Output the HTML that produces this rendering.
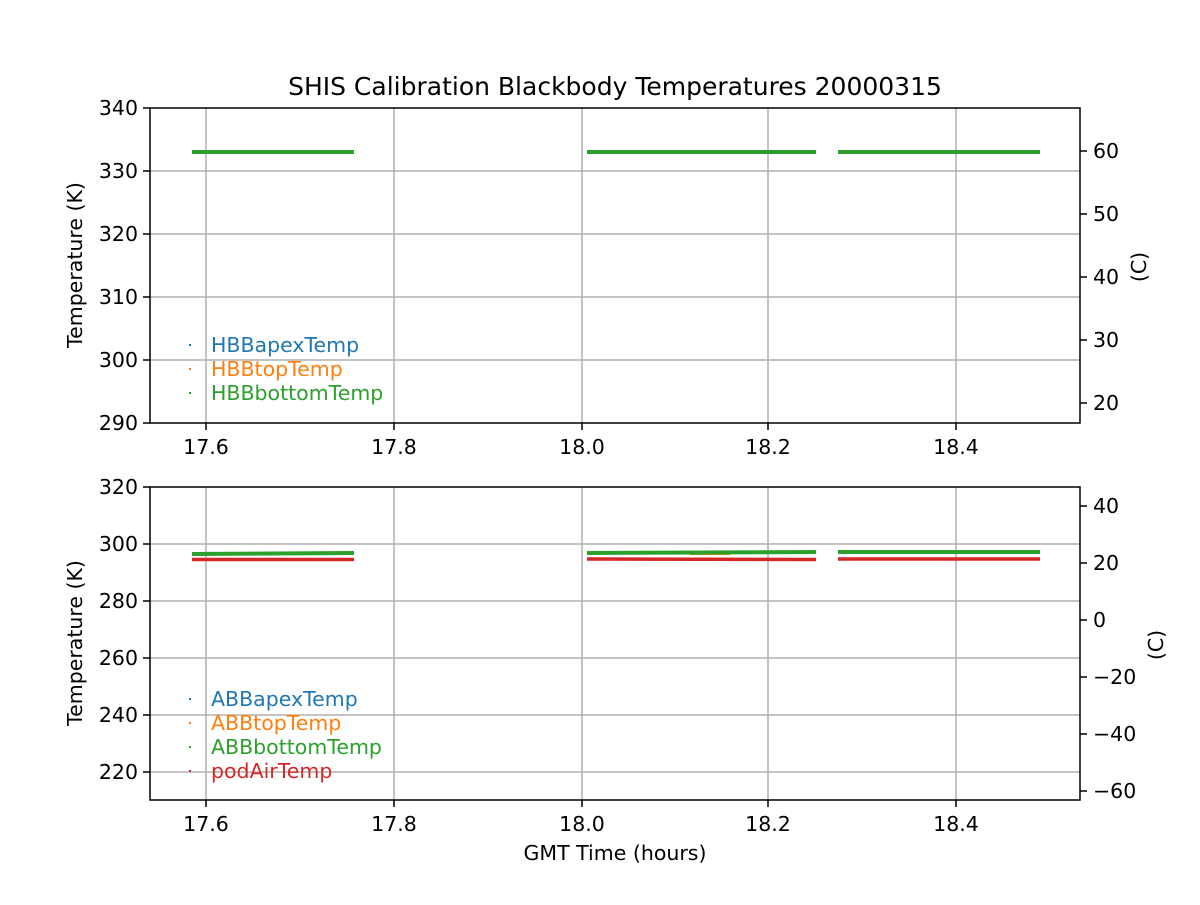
<!DOCTYPE html>
<html><head><style>body{margin:0;background:#fff}svg text{font-family:"DejaVu Sans","Liberation Sans",sans-serif}</style></head><body>
<svg width="1200" height="900" xmlns="http://www.w3.org/2000/svg" font-size="20.5">
<rect width="1200" height="900" fill="#fff"/>
<text x="615" y="95" text-anchor="middle" font-size="25">SHIS Calibration Blackbody Temperatures 20000315</text>
<g stroke="#b0b0b0" stroke-width="1.5">
<line x1="206" y1="108" x2="206" y2="423"/><line x1="394" y1="108" x2="394" y2="423"/><line x1="582" y1="108" x2="582" y2="423"/><line x1="768" y1="108" x2="768" y2="423"/><line x1="956" y1="108" x2="956" y2="423"/>
<line x1="150" y1="171" x2="1080" y2="171"/><line x1="150" y1="234" x2="1080" y2="234"/><line x1="150" y1="297" x2="1080" y2="297"/><line x1="150" y1="360" x2="1080" y2="360"/>
<line x1="206" y1="487" x2="206" y2="800"/><line x1="394" y1="487" x2="394" y2="800"/><line x1="582" y1="487" x2="582" y2="800"/><line x1="768" y1="487" x2="768" y2="800"/><line x1="956" y1="487" x2="956" y2="800"/>
<line x1="150" y1="544" x2="1080" y2="544"/><line x1="150" y1="601" x2="1080" y2="601"/><line x1="150" y1="658" x2="1080" y2="658"/><line x1="150" y1="715" x2="1080" y2="715"/><line x1="150" y1="772" x2="1080" y2="772"/>
</g>
<g stroke="#2ca02c" stroke-width="4">
<line x1="192" y1="152" x2="354" y2="152"/><line x1="587" y1="152" x2="816" y2="152"/><line x1="838" y1="152" x2="1040" y2="152"/>
</g>
<g stroke="#d62728" stroke-width="3.5">
<line x1="192" y1="559.5" x2="354" y2="559.5"/><line x1="587" y1="559" x2="816" y2="559.5"/><line x1="838" y1="559" x2="1040" y2="559"/>
</g>
<line x1="690" y1="553" x2="730" y2="553" stroke="#ff7f0e" stroke-width="4"/>
<g stroke="#2ca02c" stroke-width="4">
<line x1="192" y1="554" x2="354" y2="553"/><line x1="587" y1="553" x2="816" y2="552"/><line x1="838" y1="552" x2="1040" y2="552"/>
</g>
<g fill="none" stroke="#000" stroke-width="1.5">
<rect x="150" y="108" width="930" height="315"/><rect x="150" y="487" width="930" height="313"/>
</g>
<g stroke="#000" stroke-width="1.5">
<line x1="206" y1="423" x2="206" y2="430"/><line x1="394" y1="423" x2="394" y2="430"/><line x1="582" y1="423" x2="582" y2="430"/><line x1="768" y1="423" x2="768" y2="430"/><line x1="956" y1="423" x2="956" y2="430"/>
<line x1="206" y1="800" x2="206" y2="807"/><line x1="394" y1="800" x2="394" y2="807"/><line x1="582" y1="800" x2="582" y2="807"/><line x1="768" y1="800" x2="768" y2="807"/><line x1="956" y1="800" x2="956" y2="807"/>
<line x1="143" y1="108" x2="150" y2="108"/><line x1="143" y1="171" x2="150" y2="171"/><line x1="143" y1="234" x2="150" y2="234"/><line x1="143" y1="297" x2="150" y2="297"/><line x1="143" y1="360" x2="150" y2="360"/><line x1="143" y1="423" x2="150" y2="423"/>
<line x1="1080" y1="151" x2="1087" y2="151"/><line x1="1080" y1="214" x2="1087" y2="214"/><line x1="1080" y1="277" x2="1087" y2="277"/><line x1="1080" y1="340" x2="1087" y2="340"/><line x1="1080" y1="403" x2="1087" y2="403"/>
<line x1="143" y1="487" x2="150" y2="487"/><line x1="143" y1="544" x2="150" y2="544"/><line x1="143" y1="601" x2="150" y2="601"/><line x1="143" y1="658" x2="150" y2="658"/><line x1="143" y1="715" x2="150" y2="715"/><line x1="143" y1="772" x2="150" y2="772"/>
<line x1="1080" y1="506" x2="1087" y2="506"/><line x1="1080" y1="563" x2="1087" y2="563"/><line x1="1080" y1="620" x2="1087" y2="620"/><line x1="1080" y1="677" x2="1087" y2="677"/><line x1="1080" y1="734" x2="1087" y2="734"/><line x1="1080" y1="791" x2="1087" y2="791"/>
</g>
<g text-anchor="middle">
<text x="206" y="454">17.6</text><text x="394" y="454">17.8</text><text x="582" y="454">18.0</text><text x="768" y="454">18.2</text><text x="956" y="454">18.4</text>
<text x="206" y="831">17.6</text><text x="394" y="831">17.8</text><text x="582" y="831">18.0</text><text x="768" y="831">18.2</text><text x="956" y="831">18.4</text>
<text x="615" y="860">GMT Time (hours)</text>
</g>
<g text-anchor="end">
<text x="138" y="115">340</text><text x="138" y="178">330</text><text x="138" y="241">320</text><text x="138" y="304">310</text><text x="138" y="367">300</text><text x="138" y="430">290</text>
<text x="138" y="494">320</text><text x="138" y="551">300</text><text x="138" y="608">280</text><text x="138" y="665">260</text><text x="138" y="722">240</text><text x="138" y="779">220</text>
</g>
<g>
<text x="1093" y="158">60</text><text x="1093" y="221">50</text><text x="1093" y="284">40</text><text x="1093" y="347">30</text><text x="1093" y="410">20</text>
<text x="1093" y="513">40</text><text x="1093" y="570">20</text><text x="1093" y="627">0</text><text x="1093" y="684">−20</text><text x="1093" y="741">−40</text><text x="1093" y="798">−60</text>
</g>
<text transform="translate(82,265) rotate(-90)" text-anchor="middle">Temperature (K)</text>
<text transform="translate(82,643) rotate(-90)" text-anchor="middle">Temperature (K)</text>
<text transform="translate(1146,267) rotate(-90)" text-anchor="middle">(C)</text>
<text transform="translate(1163,645) rotate(-90)" text-anchor="middle">(C)</text>
<g>
<rect x="189" y="344" width="2" height="2" fill="#1f77b4"/><text x="211" y="352" fill="#1f77b4">HBBapexTemp</text>
<rect x="189" y="368" width="2" height="2" fill="#ff7f0e"/><text x="211" y="376" fill="#ff7f0e">HBBtopTemp</text>
<rect x="189" y="392" width="2" height="2" fill="#2ca02c"/><text x="211" y="400" fill="#2ca02c">HBBbottomTemp</text>
<rect x="189" y="698" width="2" height="2" fill="#1f77b4"/><text x="211" y="706" fill="#1f77b4">ABBapexTemp</text>
<rect x="189" y="722" width="2" height="2" fill="#ff7f0e"/><text x="211" y="730" fill="#ff7f0e">ABBtopTemp</text>
<rect x="189" y="746" width="2" height="2" fill="#2ca02c"/><text x="211" y="754" fill="#2ca02c">ABBbottomTemp</text>
<rect x="189" y="770" width="2" height="2" fill="#d62728"/><text x="211" y="778" fill="#d62728">podAirTemp</text>
</g>
</svg>
</body></html>
